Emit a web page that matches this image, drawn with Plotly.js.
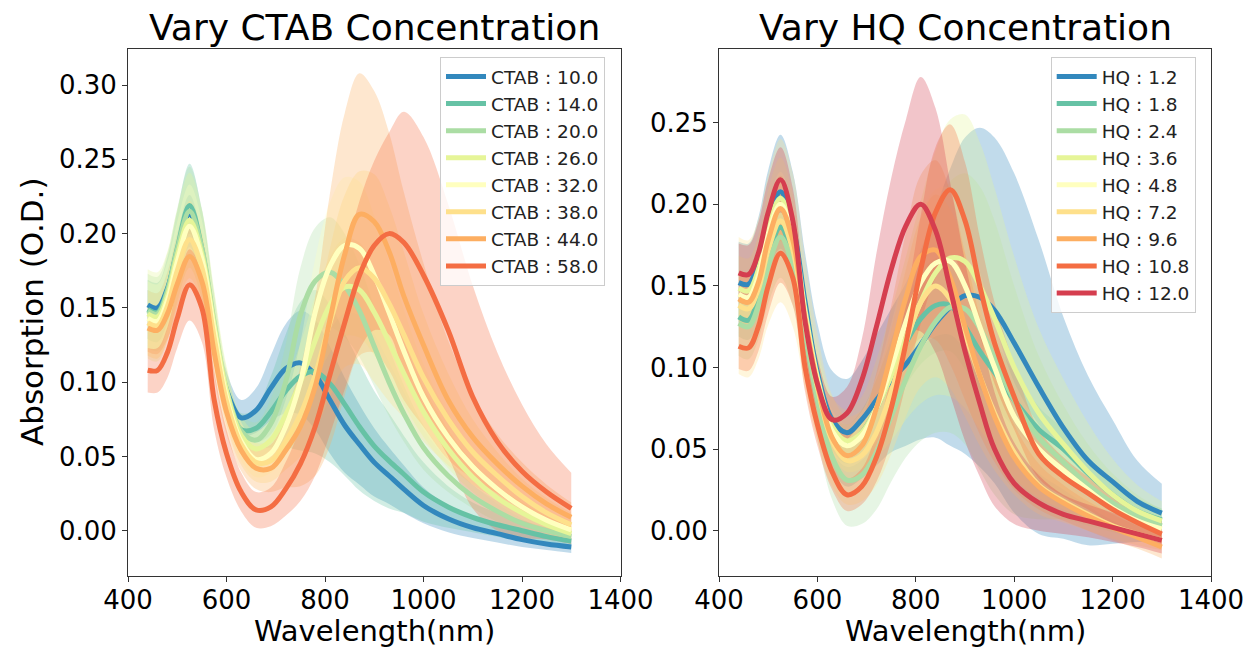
<!DOCTYPE html>
<html>
<head>
<meta charset="utf-8">
<script src="https://cdn.plot.ly/plotly-3.0.1.min.js"></script>
<style>html,body{margin:0;padding:0;background:#fff;}#chart{width:1251px;height:648px;}</style>
</head>
<body>
<div id="chart"></div>
<script>
// Wavelength grid (nm)
const wavelength = [440,460,480,500,525,550,575,600,630,660,690,720,750,780,810,840,870,900,930,960,1000,1050,1100,1150,1200,1250,1300];

// ---- Left panel: Vary CTAB Concentration (mean and std of absorption) ----
const ctabLabels = ['CTAB : 10.0','CTAB : 14.0','CTAB : 20.0','CTAB : 26.0','CTAB : 32.0','CTAB : 38.0','CTAB : 44.0','CTAB : 58.0'];
const ctab10_mean = [0.152,0.150,0.163,0.188,0.213,0.185,0.135,0.095,0.076,0.081,0.096,0.109,0.113,0.105,0.088,0.071,0.058,0.046,0.037,0.028,0.017,0.008,0.002,-0.002,-0.006,-0.009,-0.011];
const ctab10_std  = [0.010,0.010,0.011,0.012,0.013,0.013,0.012,0.012,0.012,0.015,0.022,0.030,0.035,0.037,0.036,0.032,0.027,0.023,0.019,0.016,0.012,0.009,0.007,0.006,0.005,0.004,0.004];
const ctab14_mean = [0.149,0.147,0.162,0.190,0.219,0.190,0.137,0.092,0.068,0.069,0.080,0.094,0.104,0.107,0.099,0.085,0.070,0.057,0.047,0.038,0.026,0.016,0.009,0.004,0.000,-0.004,-0.007];
const ctab14_std  = [0.020,0.020,0.022,0.025,0.028,0.026,0.020,0.014,0.011,0.014,0.024,0.038,0.050,0.055,0.053,0.048,0.043,0.037,0.032,0.026,0.020,0.014,0.010,0.008,0.007,0.006,0.005];
const ctab20_mean = [0.148,0.146,0.161,0.189,0.215,0.190,0.140,0.095,0.067,0.061,0.072,0.100,0.145,0.168,0.174,0.165,0.148,0.124,0.100,0.079,0.056,0.037,0.023,0.013,0.005,0.000,-0.004];
const ctab20_std  = [0.025,0.025,0.026,0.028,0.030,0.027,0.020,0.014,0.011,0.012,0.017,0.025,0.032,0.036,0.037,0.035,0.031,0.027,0.023,0.019,0.015,0.011,0.008,0.007,0.006,0.005,0.005];
const ctab26_mean = [0.146,0.144,0.158,0.185,0.209,0.186,0.138,0.094,0.064,0.055,0.061,0.078,0.100,0.128,0.152,0.164,0.162,0.147,0.127,0.106,0.080,0.055,0.036,0.022,0.012,0.004,-0.002];
const ctab26_std  = [0.030,0.030,0.030,0.031,0.032,0.030,0.024,0.017,0.013,0.012,0.014,0.020,0.026,0.030,0.032,0.033,0.032,0.029,0.025,0.021,0.017,0.013,0.010,0.008,0.007,0.006,0.005];
const ctab32_mean = [0.143,0.141,0.155,0.181,0.205,0.183,0.135,0.090,0.060,0.048,0.052,0.070,0.100,0.147,0.178,0.192,0.190,0.172,0.147,0.121,0.090,0.063,0.043,0.028,0.016,0.007,0.0005];
const ctab32_std  = [0.025,0.025,0.026,0.027,0.028,0.026,0.021,0.016,0.013,0.012,0.013,0.018,0.027,0.036,0.043,0.046,0.045,0.040,0.034,0.028,0.022,0.016,0.012,0.010,0.008,0.007,0.006];
const ctab38_mean = [0.140,0.138,0.151,0.175,0.196,0.177,0.130,0.087,0.058,0.046,0.047,0.060,0.078,0.105,0.140,0.168,0.177,0.170,0.153,0.132,0.103,0.075,0.053,0.037,0.023,0.012,0.004];
const ctab38_std  = [0.022,0.022,0.023,0.024,0.026,0.024,0.020,0.016,0.014,0.013,0.014,0.019,0.028,0.038,0.050,0.058,0.065,0.070,0.066,0.056,0.043,0.031,0.022,0.016,0.012,0.010,0.008];
const ctab44_mean = [0.1365,0.135,0.146,0.166,0.1846,0.168,0.120,0.080,0.054,0.042,0.042,0.054,0.070,0.097,0.142,0.186,0.213,0.208,0.188,0.158,0.125,0.088,0.063,0.045,0.030,0.018,0.009];
const ctab44_std  = [0.016,0.016,0.017,0.019,0.021,0.020,0.017,0.015,0.014,0.014,0.016,0.025,0.040,0.060,0.085,0.095,0.095,0.088,0.080,0.070,0.055,0.040,0.028,0.020,0.016,0.013,0.010];
const ctab58_mean = [0.108,0.108,0.120,0.143,0.1655,0.150,0.088,0.052,0.026,0.014,0.016,0.028,0.045,0.070,0.105,0.140,0.172,0.192,0.200,0.194,0.172,0.135,0.090,0.060,0.040,0.026,0.015];
const ctab58_std  = [0.015,0.015,0.017,0.020,0.024,0.023,0.020,0.016,0.013,0.012,0.013,0.018,0.025,0.033,0.040,0.045,0.050,0.057,0.068,0.088,0.093,0.085,0.075,0.060,0.045,0.032,0.024];

// ---- Right panel: Vary HQ Concentration ----
const hqLabels = ['HQ : 1.2','HQ : 1.8','HQ : 2.4','HQ : 3.6','HQ : 4.8','HQ : 7.2','HQ : 9.6','HQ : 10.8','HQ : 12.0'];
const hq1_2_mean = [0.152,0.151,0.165,0.190,0.2077,0.187,0.140,0.097,0.068,0.060,0.068,0.080,0.092,0.102,0.114,0.127,0.137,0.144,0.143,0.135,0.115,0.088,0.063,0.043,0.030,0.018,0.0107];
const hq1_2_std  = [0.025,0.025,0.027,0.031,0.035,0.033,0.030,0.030,0.030,0.033,0.036,0.040,0.044,0.050,0.058,0.070,0.085,0.097,0.104,0.106,0.104,0.090,0.068,0.052,0.038,0.025,0.018];
const hq1_8_mean = [0.131,0.129,0.142,0.168,0.186,0.167,0.123,0.085,0.060,0.053,0.060,0.075,0.095,0.115,0.130,0.138,0.138,0.125,0.110,0.097,0.080,0.062,0.050,0.035,0.022,0.012,0.0066];
const hq1_8_std  = [0.012,0.012,0.013,0.015,0.017,0.016,0.014,0.012,0.011,0.012,0.014,0.018,0.022,0.026,0.028,0.029,0.028,0.026,0.023,0.020,0.017,0.014,0.012,0.010,0.009,0.008,0.007];
const hq2_4_mean = [0.127,0.125,0.138,0.162,0.180,0.162,0.120,0.080,0.045,0.031,0.034,0.048,0.070,0.093,0.113,0.128,0.137,0.136,0.124,0.106,0.080,0.057,0.042,0.028,0.017,0.009,0.003];
const hq2_4_std  = [0.020,0.020,0.021,0.023,0.025,0.024,0.023,0.024,0.026,0.028,0.030,0.035,0.040,0.048,0.058,0.068,0.077,0.083,0.087,0.084,0.070,0.050,0.035,0.025,0.018,0.013,0.010];
const hq3_6_mean = [0.1485,0.147,0.160,0.186,0.2037,0.183,0.135,0.094,0.064,0.055,0.060,0.075,0.095,0.118,0.140,0.158,0.167,0.165,0.150,0.130,0.100,0.072,0.053,0.036,0.022,0.012,0.006];
const hq3_6_std  = [0.020,0.020,0.021,0.023,0.025,0.024,0.021,0.019,0.018,0.019,0.022,0.030,0.040,0.050,0.062,0.075,0.085,0.090,0.088,0.080,0.068,0.052,0.040,0.030,0.022,0.016,0.012];
const hq4_8_mean = [0.145,0.143,0.156,0.182,0.200,0.180,0.132,0.092,0.061,0.052,0.058,0.075,0.100,0.128,0.152,0.164,0.165,0.150,0.125,0.100,0.070,0.050,0.037,0.025,0.014,0.006,0.001];
const hq4_8_std  = [0.015,0.015,0.016,0.018,0.020,0.019,0.016,0.014,0.013,0.013,0.015,0.020,0.027,0.034,0.040,0.045,0.045,0.040,0.034,0.028,0.021,0.015,0.012,0.010,0.008,0.007,0.006];
const hq7_2_mean = [0.138,0.136,0.148,0.172,0.190,0.172,0.127,0.088,0.055,0.043,0.046,0.060,0.085,0.115,0.140,0.150,0.142,0.120,0.095,0.072,0.048,0.028,0.018,0.010,0.003,-0.002,-0.006];
const hq7_2_std  = [0.042,0.042,0.043,0.046,0.050,0.047,0.040,0.033,0.028,0.027,0.028,0.032,0.038,0.045,0.052,0.056,0.055,0.050,0.043,0.035,0.026,0.018,0.013,0.010,0.008,0.007,0.006];
const hq9_6_mean = [0.142,0.140,0.152,0.178,0.1975,0.178,0.130,0.090,0.057,0.046,0.052,0.075,0.108,0.143,0.168,0.172,0.155,0.125,0.095,0.070,0.045,0.027,0.017,0.009,0.002,-0.004,-0.010];
const hq9_6_std  = [0.016,0.016,0.017,0.019,0.020,0.019,0.017,0.015,0.015,0.015,0.017,0.022,0.030,0.040,0.050,0.055,0.053,0.045,0.036,0.028,0.020,0.014,0.011,0.009,0.008,0.007,0.007];
const hq10_8_mean = [0.113,0.112,0.125,0.150,0.170,0.155,0.100,0.065,0.036,0.022,0.027,0.045,0.075,0.115,0.160,0.195,0.209,0.190,0.150,0.115,0.082,0.047,0.033,0.023,0.013,0.005,-0.002];
const hq10_8_std  = [0.014,0.014,0.015,0.017,0.018,0.017,0.015,0.013,0.011,0.010,0.011,0.015,0.020,0.025,0.033,0.040,0.040,0.036,0.030,0.025,0.020,0.015,0.012,0.010,0.009,0.008,0.008];
const hq12_0_mean = [0.158,0.157,0.170,0.195,0.215,0.190,0.128,0.090,0.068,0.072,0.092,0.125,0.160,0.187,0.200,0.184,0.148,0.110,0.078,0.050,0.029,0.017,0.010,0.006,0.002,-0.002,-0.006];
const hq12_0_std  = [0.018,0.018,0.019,0.020,0.020,0.020,0.018,0.016,0.014,0.016,0.025,0.045,0.056,0.065,0.078,0.075,0.065,0.055,0.045,0.035,0.025,0.017,0.012,0.010,0.009,0.008,0.008];

// Spectral palette
const spectral = ['#3288bd','#66c2a5','#abdda4','#e6f598','#ffffbf','#fee08b','#fdae61','#f46d43','#d53e4f'];

const FONT = 'DejaVu Sans, Liberation Sans, sans-serif';

function rgba(hex, a){
  const r=parseInt(hex.slice(1,3),16), g=parseInt(hex.slice(3,5),16), b=parseInt(hex.slice(5,7),16);
  return `rgba(${r},${g},${b},${a})`;
}

// bands first, then mean lines on top
function buildBands(means, stds, colors, xa, ya, legendId){
  const out=[];
  means.forEach((m,i)=>{
    const s=stds[i];
    const lo=m.map((v,k)=>v-s[k]);
    const hi=m.map((v,k)=>v+s[k]);
    out.push({x:wavelength,y:lo,type:'scatter',mode:'lines',xaxis:xa,yaxis:ya,
      line:{width:0,shape:'spline',color:rgba(colors[i],0)},showlegend:false,hoverinfo:'skip',legend:legendId});
    out.push({x:wavelength,y:hi,type:'scatter',mode:'lines',xaxis:xa,yaxis:ya,fill:'tonexty',
      fillcolor:rgba(colors[i],0.3),line:{width:0,shape:'spline',color:rgba(colors[i],0)},showlegend:false,hoverinfo:'skip',legend:legendId});
  });
  return out;
}
function buildLines(labels, means, colors, xa, ya, legendId){
  return labels.map((lab,i)=>({x:wavelength,y:means[i],type:'scatter',mode:'lines',name:lab,xaxis:xa,yaxis:ya,
      line:{width:5,shape:'spline',color:colors[i]},legend:legendId}));
}

const ctabMeans=[ctab10_mean,ctab14_mean,ctab20_mean,ctab26_mean,ctab32_mean,ctab38_mean,ctab44_mean,ctab58_mean];
const ctabStds=[ctab10_std,ctab14_std,ctab20_std,ctab26_std,ctab32_std,ctab38_std,ctab44_std,ctab58_std];
const hqMeans=[hq1_2_mean,hq1_8_mean,hq2_4_mean,hq3_6_mean,hq4_8_mean,hq7_2_mean,hq9_6_mean,hq10_8_mean,hq12_0_mean];
const hqStds=[hq1_2_std,hq1_8_std,hq2_4_std,hq3_6_std,hq4_8_std,hq7_2_std,hq9_6_std,hq10_8_std,hq12_0_std];

const traces = [].concat(
  buildBands(ctabMeans,ctabStds,spectral.slice(0,8),'x','y','legend'),
  buildLines(ctabLabels,ctabMeans,spectral.slice(0,8),'x','y','legend'),
  buildBands(hqMeans,hqStds,spectral,'x2','y2','legend2'),
  buildLines(hqLabels,hqMeans,spectral,'x2','y2','legend2')
);

const W=1251,H=648;
const axisCommon = {showgrid:false,zeroline:false,showline:true,mirror:true,linecolor:'#333',linewidth:1,
  ticks:'outside',ticklen:5,tickwidth:1,tickcolor:'#333',tickfont:{family:FONT,size:26,color:'#000'}};
const xTicks=[400,600,800,1000,1200,1400];

const legendCommon = {xanchor:'left',yanchor:'top',bgcolor:'rgba(255,255,255,0.8)',bordercolor:'#cccccc',borderwidth:1,
  font:{family:FONT,size:18.5,color:'#222'},tracegroupgap:0,itemwidth:40,traceorder:'normal'};

const layout = {
  width:W,height:H,margin:{l:0,r:0,t:0,b:0},paper_bgcolor:'#fff',plot_bgcolor:'#fff',
  font:{family:FONT,color:'#000'},
  xaxis:Object.assign({},axisCommon,{domain:[128/W,620.5/W],range:[400,1400],tickvals:xTicks,anchor:'y',ticklabelstandoff:-4}),
  yaxis:Object.assign({},axisCommon,{domain:[72/H,599/H],range:[-0.0305,0.3243],tickvals:[0,0.05,0.10,0.15,0.20,0.25,0.30],tickformat:'.2f',anchor:'x'}),
  xaxis2:Object.assign({},axisCommon,{domain:[719/W,1211/W],range:[400,1400],tickvals:xTicks,anchor:'y2',ticklabelstandoff:-4}),
  yaxis2:Object.assign({},axisCommon,{domain:[72/H,599/H],range:[-0.0278,0.2952],tickvals:[0,0.05,0.10,0.15,0.20,0.25],tickformat:'.2f',anchor:'x2'}),
  legend:Object.assign({},legendCommon,{x:440/W,y:1-57/H}),
  legend2:Object.assign({},legendCommon,{x:1050.7/W,y:1-57/H}),
  annotations:[
    {text:'Vary CTAB Concentration',xref:'paper',yref:'paper',x:374/W,y:1-28/H,xanchor:'center',yanchor:'middle',showarrow:false,font:{family:FONT,size:36,color:'#000'}},
    {text:'Vary HQ Concentration',xref:'paper',yref:'paper',x:965/W,y:1-28/H,xanchor:'center',yanchor:'middle',showarrow:false,font:{family:FONT,size:36,color:'#000'}},
    {text:'Wavelength(nm)',xref:'paper',yref:'paper',x:374/W,y:1-631/H,xanchor:'center',yanchor:'middle',showarrow:false,font:{family:FONT,size:29,color:'#000'}},
    {text:'Wavelength(nm)',xref:'paper',yref:'paper',x:965/W,y:1-631/H,xanchor:'center',yanchor:'middle',showarrow:false,font:{family:FONT,size:29,color:'#000'}},
    {text:'Absorption (O.D.)',xref:'paper',yref:'paper',x:32/W,y:1-312/H,xanchor:'center',yanchor:'middle',textangle:-90,showarrow:false,font:{family:FONT,size:31,color:'#000'}}
  ]
};

Plotly.newPlot('chart',traces,layout,{staticPlot:true,displayModeBar:false});
</script>
</body>
</html>
